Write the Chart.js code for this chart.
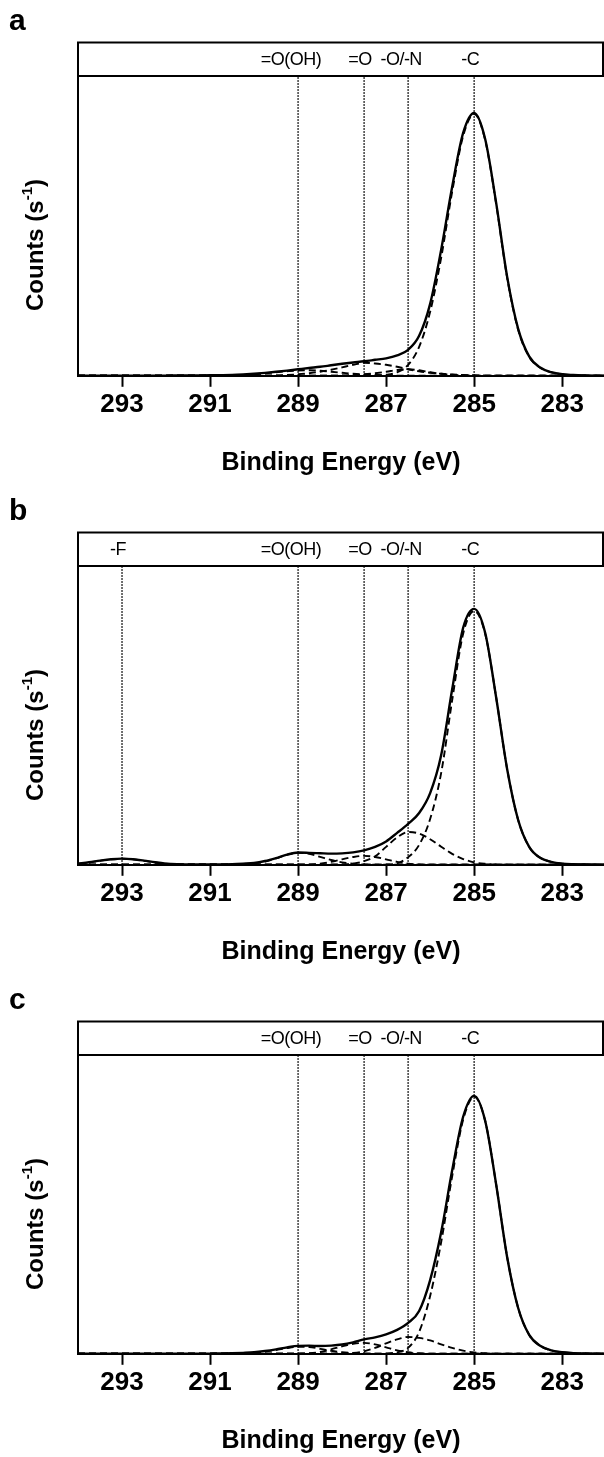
<!DOCTYPE html>
<html>
<head>
<meta charset="utf-8">
<script src="https://cdn.jsdelivr.net/npm/chart.js@4.4.1/dist/chart.umd.min.js"></script>
<style>
  body { margin: 0; background: #fff; width: 604px; height: 1457px; overflow: hidden; }
  canvas { display: block; }
</style>
</head>
<body>
<canvas id="panelA" width="604" height="490"></canvas>
<canvas id="panelB" width="604" height="489"></canvas>
<canvas id="panelC" width="604" height="489"></canvas>
<script>
// C 1s XPS spectra, three samples. Counts in arbitrary units (axis is unlabelled).

const BE = [
  294, 293.75, 293.5, 293.25, 293, 292.75, 292.5, 292.25, 292, 291.75, 291.5, 291.25,
  291, 290.75, 290.5, 290.25, 290, 289.75, 289.5, 289.25, 289, 288.75, 288.5, 288.25,
  288, 287.75, 287.5, 287.25, 287, 286.75, 286.5, 286.25, 286, 285.75, 285.5, 285.25,
  285, 284.75, 284.5, 284.25, 284, 283.75, 283.5, 283.25, 283, 282.75, 282.5, 282.25,
  282,
];
const TICKS = [293, 291, 289, 287, 285, 283];
const Y_MAX = 300;

const PEAK_LABELS = ['=O(OH)', '=O', '-O/-N', '-C'];
const PEAK_POS = [289, 287.5, 286.5, 285];
const PEAK_LABELS_B = ['-F', '=O(OH)', '=O', '-O/-N', '-C'];
const PEAK_POS_B = [293, 289, 287.5, 286.5, 285];

// panel a
const A_TOTAL = [
  0, 0, 0, 0, 0, 0, 0.1, 0.2, 0.2, 0.3, 0.3, 0.4,
  0.5, 0.6, 0.8, 1.3, 2, 2.9, 4, 5.2, 6.5, 7.8, 9, 10.5,
  12, 13.3, 14.5, 16, 17.5, 20.5, 26, 40, 72, 126, 189, 243,
  263, 237, 173, 99, 47, 19.5, 8.3, 3.6, 1.5, 0.8, 0.4, 0.2,
  0.2,
];
const A_CC = [
  0, 0, 0, 0, 0, 0, 0, 0, 0, 0, 0, 0,
  0, 0, 0, 0, 0, 0, 0, 0, 0, 0, 0, 0,
  0, 0, 0.3, 0.5, 1, 3.5, 11, 29, 64, 118, 184, 240,
  262, 236, 172, 98, 46, 19, 8, 3.5, 1.5, 0.7, 0.3, 0.1,
  0,
];
const A_CO = [
  0, 0, 0, 0, 0, 0, 0, 0, 0, 0, 0, 0,
  0, 0, 0, 0, 0, 0, 0, 0, 0, 0, 0, 0.1,
  0.3, 0.8, 1.5, 2.6, 4, 5.8, 6.5, 5.5, 3.5, 2, 1, 0.5,
  0.2, 0, 0, 0, 0, 0, 0, 0, 0, 0, 0, 0,
  0,
];
const A_CEO = [
  0, 0, 0, 0, 0, 0, 0, 0, 0, 0, 0, 0,
  0, 0, 0, 0, 0, 0.1, 0.3, 0.8, 1.5, 2.6, 4, 6,
  8.5, 11, 13, 12.3, 11, 9, 6.5, 4.5, 3, 2, 1.3, 0.8,
  0.5, 0.2, 0, 0, 0, 0, 0, 0, 0, 0, 0, 0,
  0,
];
const A_COOH = [
  0, 0, 0, 0, 0, 0, 0, 0, 0, 0, 0, 0,
  0, 0.1, 0.3, 0.8, 1.5, 2.4, 3.5, 4.5, 5.3, 5.5, 5, 4,
  3, 2, 1.3, 0.8, 0.4, 0.2, 0, 0, 0, 0, 0, 0,
  0, 0, 0, 0, 0, 0, 0, 0, 0, 0, 0, 0,
  0,
];

// panel b
const B_TOTAL = [
  1.2, 2.5, 4.2, 5.6, 6.2, 5.6, 4.2, 2.5, 1.2, 0.6, 0.4, 0.3,
  0.3, 0.4, 0.6, 1.1, 1.8, 3.8, 6.8, 10.3, 12.3, 12, 11.6, 11.2,
  11.5, 12.5, 14.5, 18, 23.5, 32, 41, 52, 72, 110, 176, 238,
  257, 233, 168, 96, 45, 18, 7, 3, 1.2, 0.6, 0.4, 0.2,
  0.2,
];
const B_CF = [
  1, 2.3, 4, 5.4, 6, 5.4, 4, 2.3, 1, 0.4, 0.2, 0.1,
  0, 0, 0, 0, 0, 0, 0, 0, 0, 0, 0, 0,
  0, 0, 0, 0, 0, 0, 0, 0, 0, 0, 0, 0,
  0, 0, 0, 0, 0, 0, 0, 0, 0, 0, 0, 0,
  0,
];
const B_COOH = [
  0, 0, 0, 0, 0, 0, 0, 0, 0, 0, 0, 0,
  0, 0, 0.1, 0.5, 1.3, 3.3, 6.4, 10, 12, 11, 8, 4.8,
  2.4, 1, 0.3, 0.1, 0, 0, 0, 0, 0, 0, 0, 0,
  0, 0, 0, 0, 0, 0, 0, 0, 0, 0, 0, 0,
  0,
];
const B_CEO = [
  0, 0, 0, 0, 0, 0, 0, 0, 0, 0, 0, 0,
  0, 0, 0, 0, 0, 0, 0, 0, 0, 0.2, 1.2, 3,
  5.5, 7.8, 9, 7.8, 5.5, 3, 1.2, 0.3, 0, 0, 0, 0,
  0, 0, 0, 0, 0, 0, 0, 0, 0, 0, 0, 0,
  0,
];
const B_CO = [
  0, 0, 0, 0, 0, 0, 0, 0, 0, 0, 0, 0,
  0, 0, 0, 0, 0, 0, 0, 0, 0, 0, 0, 0,
  0.3, 1.2, 3.6, 8.5, 18, 27.6, 32.9, 31.4, 25.7, 18.2, 11, 5.8,
  2.5, 1, 0.3, 0.1, 0, 0, 0, 0, 0, 0, 0, 0,
  0,
];
const B_CC = [
  0, 0, 0, 0, 0, 0, 0, 0, 0, 0, 0, 0,
  0, 0, 0, 0, 0, 0, 0, 0, 0, 0, 0, 0,
  0, 0, 0, 0.1, 0.3, 1.5, 7.5, 20, 46, 92, 165, 232,
  255, 232, 168, 96, 45, 18, 7, 3, 1.2, 0.5, 0.3, 0.1,
  0,
];

// panel c
const C_TOTAL = [
  0, 0, 0, 0, 0, 0, 0, 0, 0, 0, 0, 0.1,
  0.2, 0.3, 0.5, 0.9, 1.5, 2.8, 4.5, 6.5, 8, 8.2, 7.8, 8.2,
  9.3, 11.5, 14.5, 16.5, 19.5, 24, 31, 43, 74, 122, 184, 238,
  259, 234, 170, 97, 46, 19, 8, 3.5, 1.5, 0.7, 0.3, 0.1,
  0,
];
const C_COOH = [
  0, 0, 0, 0, 0, 0, 0, 0, 0, 0, 0, 0,
  0, 0.1, 0.2, 0.5, 1, 2.2, 3.8, 5.8, 7, 6.8, 5, 3,
  1.5, 0.7, 0.3, 0.1, 0, 0, 0, 0, 0, 0, 0, 0,
  0, 0, 0, 0, 0, 0, 0, 0, 0, 0, 0, 0,
  0,
];
const C_CEO = [
  0, 0, 0, 0, 0, 0, 0, 0, 0, 0, 0, 0,
  0, 0, 0, 0, 0, 0, 0, 0, 0.2, 0.5, 1.8, 4.5,
  7.5, 10, 11, 9.5, 6.5, 3.5, 1.5, 0.5, 0.1, 0, 0, 0,
  0, 0, 0, 0, 0, 0, 0, 0, 0, 0, 0, 0,
  0,
];
const C_CO = [
  0, 0, 0, 0, 0, 0, 0, 0, 0, 0, 0, 0,
  0, 0, 0, 0, 0, 0, 0, 0, 0, 0, 0, 0.1,
  0.2, 0.8, 2.5, 6, 10.5, 14.5, 16.9, 16, 13.5, 9.5, 6, 3.2,
  1.3, 0.5, 0.1, 0, 0, 0, 0, 0, 0, 0, 0, 0,
  0,
];
const C_CC = [
  0, 0, 0, 0, 0, 0, 0, 0, 0, 0, 0, 0,
  0, 0, 0, 0, 0, 0, 0, 0, 0, 0, 0, 0,
  0, 0, 0, 0.1, 0.3, 1.5, 6, 22, 58, 112, 178, 235,
  258, 234, 170, 97, 46, 19, 8, 3.5, 1.5, 0.7, 0.3, 0.1,
  0,
];

const FONT = '"Liberation Sans", Arial, Helvetica, sans-serif';

function curve(values, dash, width) {
  return {
    data: BE.map((x, i) => ({ x, y: values[i] })),
    showLine: true,
    borderColor: '#000',
    borderWidth: width,
    borderDash: dash,
    pointRadius: 0,
    cubicInterpolationMode: 'monotone',
  };
}

function marker(pos) {
  return {
    data: [{ x: pos, y: 0 }, { x: pos, y: Y_MAX }],
    showLine: true,
    borderColor: '#000',
    borderWidth: 1.5,
    borderDash: [1.5, 1.5],
    pointRadius: 0,
  };
}

// header strip with peak names, panel letter and the y title
const decor = {
  id: 'decor',
  afterDraw(chart, args, opts) {
    const { ctx, chartArea: a } = chart;
    const x = chart.scales.x;
    ctx.save();
    ctx.strokeStyle = '#000';
    ctx.lineWidth = 2;
    ctx.strokeRect(a.left, a.top - 33.5, 603 - a.left, 33.5);

    ctx.fillStyle = '#000';
    ctx.font = '18px ' + FONT;
    ctx.textAlign = 'center';
    ctx.textBaseline = 'middle';
    ctx.letterSpacing = '-0.5px';
    opts.labels.forEach((t, i) => {
      const shift = t.length > 4 ? -7 : -4;
      ctx.fillText(t, x.getPixelForValue(opts.positions[i]) + shift, a.top - 16);
    });
    ctx.letterSpacing = '0px';

    ctx.textAlign = 'left';
    ctx.textBaseline = 'alphabetic';
    ctx.font = 'bold 30px ' + FONT;
    ctx.fillText(opts.letter, 9, 30);

    // Counts (s^-1), rotated
    ctx.translate(36, 245);
    ctx.rotate(-Math.PI / 2);
    ctx.textBaseline = 'middle';
    const main = 'bold 24px ' + FONT;
    const sup = 'bold 15px ' + FONT;
    ctx.font = main;
    const w1 = ctx.measureText('Counts (s').width;
    const w3 = ctx.measureText(')').width;
    ctx.font = sup;
    const w2 = ctx.measureText('-1').width;
    const x0 = -(w1 + w2 + w3) / 2;
    ctx.font = main;
    ctx.fillText('Counts (s', x0, 0);
    ctx.font = sup;
    ctx.fillText('-1', x0 + w1, -8);
    ctx.font = main;
    ctx.fillText(')', x0 + w1 + w2, 0);
    ctx.restore();
  },
};

function makePanel(id, letter, labels, positions, total, components) {
  const datasets = [];
  positions.forEach((p) => datasets.push(marker(p)));
  components.forEach((c) => datasets.push(curve(c, [7, 4], 1.9)));
  datasets.push(curve(total, [], 2.4));

  new Chart(document.getElementById(id), {
    type: 'scatter',
    data: { datasets },
    plugins: [decor],
    options: {
      responsive: false,
      animation: false,
      layout: { padding: { top: 76, left: 78, right: 0, bottom: 12 } },
      plugins: {
        legend: { display: false },
        tooltip: { enabled: false },
        decor: { letter, labels, positions },
      },
      scales: {
        x: {
          type: 'linear',
          reverse: true,
          min: 282.05,
          max: 294,
          afterBuildTicks: (s) => { s.ticks = TICKS.map((v) => ({ value: v })); },
          grid: { display: true, drawOnChartArea: false, drawTicks: true, tickLength: 11, tickWidth: 2, tickColor: '#000' },
          border: { display: true, color: '#000', width: 2 },
          ticks: { color: '#000', font: { family: FONT, size: 26, weight: 'bold' }, padding: 2, maxRotation: 0, autoSkip: false },
          title: {
            display: true,
            text: 'Binding Energy (eV)',
            color: '#000',
            font: { family: FONT, size: 25, weight: 'bold' },
            padding: { top: 26, bottom: 0 },
          },
        },
        y: {
          min: 0,
          max: Y_MAX,
          ticks: { display: false },
          grid: { display: false, drawTicks: false },
          border: { display: true, color: '#000', width: 2 },
        },
      },
    },
  });
}

makePanel('panelA', 'a', PEAK_LABELS, PEAK_POS, A_TOTAL, [A_CC, A_CO, A_CEO, A_COOH]);
makePanel('panelB', 'b', PEAK_LABELS_B, PEAK_POS_B, B_TOTAL, [B_CF, B_CC, B_CO, B_CEO, B_COOH]);
makePanel('panelC', 'c', PEAK_LABELS, PEAK_POS, C_TOTAL, [C_CC, C_CO, C_CEO, C_COOH]);
</script>
</body>
</html>
